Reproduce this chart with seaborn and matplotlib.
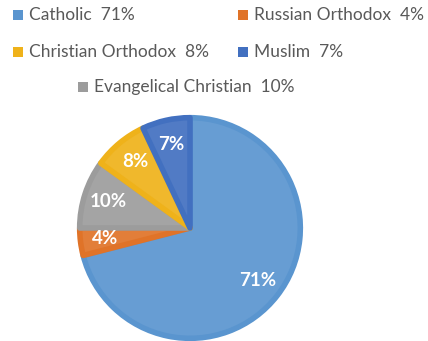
import matplotlib
matplotlib.use("Agg")
import matplotlib.pyplot as plt
from matplotlib.patches import Rectangle
import seaborn as sns
import matplotlib.colors as mcolors

sns.set_theme(style="white")
plt.rcParams['font.family'] = ['Lato', 'DejaVu Sans']

# Data (pie order, clockwise from 12 o'clock)
pie_labels = ["Catholic", "Russian Orthodox", "Evangelical Christian", "Christian Orthodox", "Muslim"]
pie_values = [71, 4, 10, 8, 7]
pie_colors = ["#5A95CF", "#E07328", "#9C9C9C", "#EFB21A", "#4270C0"]

# Legend order (rows of two, last centered)
legend_labels = ["Catholic", "Russian Orthodox", "Christian Orthodox", "Muslim", "Evangelical Christian"]

W, H = 428, 341
fig = plt.figure(figsize=(W / 100, H / 100), dpi=100)
fig.patch.set_facecolor("white")

cx, cy, r = 190, 228, 112
ax = fig.add_axes([(cx - r) / W, (H - cy - r) / H, 2 * r / W, 2 * r / H])

def lighter(c, f=0.08):
    rr, g, b = mcolors.to_rgb(c)
    return (rr + (1 - rr) * f, g + (1 - g) * f, b + (1 - b) * f)

wedges, texts, autotexts = ax.pie(
    pie_values, colors=[lighter(c) for c in pie_colors], startangle=90, counterclock=False,
    radius=0.985,
    autopct=lambda p: f"{p:.0f}%", pctdistance=0.78,
    wedgeprops=dict(linewidth=0),
    textprops=dict(color="white", fontsize=13.5, fontweight="bold"),
)
# bevel-like inner border
for w, c in zip(wedges, pie_colors):
    w.set_edgecolor(c)
    w.set_linewidth(4)
    w.set_joinstyle("round")
for t in autotexts:
    t.set_zorder(10)
ax.set_xlim(-1, 1)
ax.set_ylim(-1, 1)
ax.set_aspect("equal")
ax.axis("off")

# Legend drawn manually
color_map = dict(zip(pie_labels, pie_colors))
value_map = dict(zip(pie_labels, pie_values))
legend_pos = [(13, 15), (238, 15), (13, 52), (238, 52), (78, 87)]
sq = 10
for lab, (px, py) in zip(legend_labels, legend_pos):
    fig.patches.append(Rectangle(((px) / W, (H - py - sq / 2) / H), sq / W, sq / H,
                                 transform=fig.transFigure, facecolor=color_map[lab],
                                 edgecolor="none"))
    fig.text((px + 16) / W, (H - py) / H, f"{lab}  {value_map[lab]}%",
             fontsize=12.5, color="#595959", va="center", ha="left")

fig.savefig("out.png", dpi=100, facecolor="white")
